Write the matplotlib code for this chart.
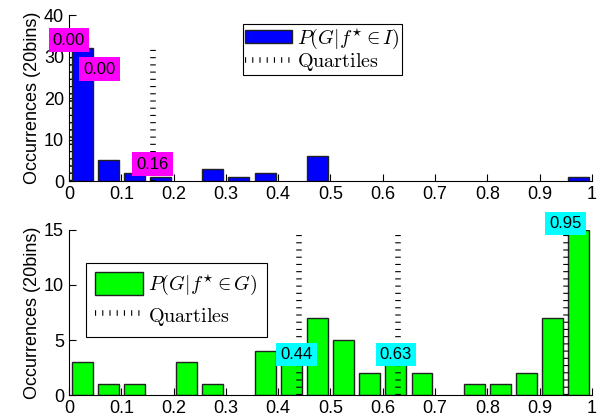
import matplotlib
matplotlib.use("Agg")
import matplotlib.pyplot as plt
import numpy as np

plt.rcParams["font.family"] = ["Liberation Sans", "DejaVu Sans"]
plt.rcParams["mathtext.fontset"] = "cm"

# 20-bin histograms
bin_centers = np.arange(0.025, 1.0, 0.05)
counts_I = [32, 5, 2, 1, 0, 3, 1, 2, 0, 6, 0, 0, 0, 0, 0, 0, 0, 0, 0, 1]
counts_G = [3, 1, 1, 0, 3, 1, 0, 4, 3, 7, 5, 2, 3, 2, 0, 1, 1, 2, 7, 15]

quart_I = [0.00, 0.00, 0.16]
quart_G = [0.44, 0.63, 0.95]
# where the value boxes sit (x, y)
lab_I = [(0.0, 34), (0.058, 27), (0.16, 4.1)]
lab_G = [(0.435, 3.7), (0.625, 3.7), (0.949, 15.6)]

fig = plt.figure(figsize=(6.05, 4.2), dpi=100)
ax1 = fig.add_axes([0.114, 0.569, 0.8645, 0.3946])
ax2 = fig.add_axes([0.114, 0.0595, 0.8645, 0.3929])


def draw(ax, counts, quarts, labs, color, boxcolor, ylim, yticks, leg_label,
         leg_pos, hl, hh, bpad, lspace):
    lw = [1.0 if c > 0 else 0 for c in counts]
    bars = ax.bar(bin_centers, counts, 0.04, color=color, edgecolor="#222222",
                  linewidth=lw, zorder=2)
    top = max(counts)
    for q in quarts:
        qline, = ax.plot([q, q], [0, top], color="black", linewidth=4,
                         dashes=(0.2, 1.1), dash_capstyle="butt", zorder=3)
    for q, (x, y) in zip(quarts, labs):
        ax.text(x, y, "%.2f" % q, ha="center", va="center", fontsize=12,
                bbox=dict(facecolor=boxcolor, edgecolor="none", pad=3), zorder=4)
    ax.set_xlim(0, 1)
    ax.set_ylim(*ylim)
    ax.set_xticks(np.arange(0, 1.01, 0.1))
    ax.set_xticklabels(["0", "0.1", "0.2", "0.3", "0.4", "0.5", "0.6", "0.7", "0.8", "0.9", "1"])
    ax.set_yticks(yticks)
    ax.tick_params(direction="in", length=5, labelsize=13, width=0.8)
    ax.spines["top"].set_visible(False)
    ax.spines["right"].set_visible(False)
    ax.set_ylabel("Occurrences (20bins)", fontsize=13, labelpad=2)
    leg = ax.legend([bars, qline], [leg_label, r"$\mathrm{Quartiles}$"],
                    loc="upper left", bbox_to_anchor=leg_pos, bbox_transform=fig.transFigure,
                    fontsize=14.5, fancybox=False, edgecolor="black", framealpha=1,
                    handlelength=hl, handleheight=hh, borderpad=bpad, labelspacing=lspace,
                    handletextpad=0.25, borderaxespad=0)
    leg.get_frame().set_linewidth(0.8)


draw(ax1, counts_I, quart_I, lab_I, "#0000ff", "#ff00ff", (0, 40), [0, 10, 20, 30, 40],
     r"$P(G|f^{\star} \in I)$", (0.4017, 0.9429), 2.3, 0.65, 0.12, 0.0)
draw(ax2, counts_G, quart_G, lab_G, "#00ff00", "#00ffff", (0, 15), [0, 5, 10, 15],
     r"$P(G|f^{\star} \in G)$", (0.142, 0.374), 2.4, 1.4, 0.45, 0.3)

fig.savefig("out.png", dpi=100)
